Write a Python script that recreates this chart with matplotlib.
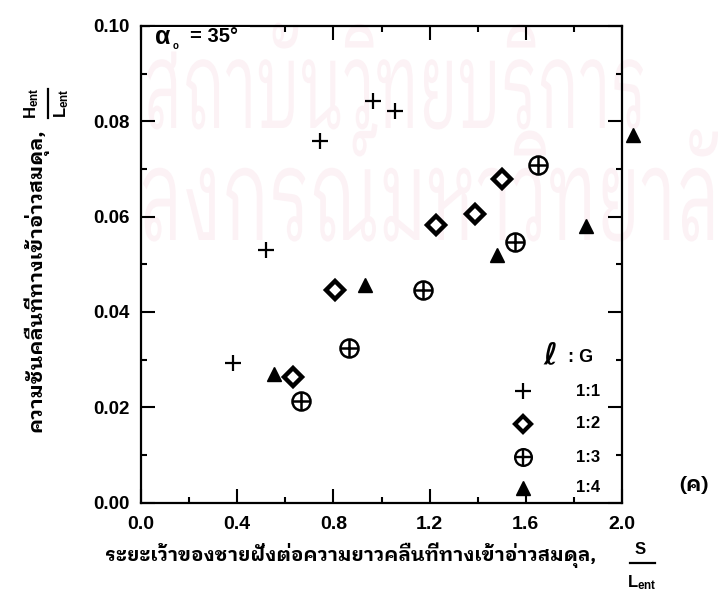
import matplotlib
matplotlib.use('Agg')
import matplotlib.pyplot as plt
from matplotlib import font_manager
from matplotlib.font_manager import FontProperties
from matplotlib.ft2font import FT2Font
from matplotlib.textpath import TextPath
from matplotlib.patches import PathPatch, Rectangle
from matplotlib.transforms import Affine2D

# ---------------- data ----------------
ratio_labels = ['1:1', '1:2', '1:3', '1:4']
s_l_11 = [0.384, 0.519, 0.743, 0.964, 1.057]
h_l_11 = [0.0293, 0.0530, 0.0759, 0.0843, 0.0821]
s_l_12 = [0.630, 0.808, 1.227, 1.389, 1.500]
h_l_12 = [0.0264, 0.0445, 0.0583, 0.0605, 0.0679]
s_l_13 = [0.664, 0.865, 1.173, 1.554, 1.652]
h_l_13 = [0.0214, 0.0324, 0.0445, 0.0546, 0.0709]
s_l_14 = [0.555, 0.933, 1.482, 1.851, 2.045]
h_l_14 = [0.0269, 0.0457, 0.0520, 0.0580, 0.0772]
x_ticks = [0.0, 0.4, 0.8, 1.2, 1.6, 2.0]
y_ticks = [0.00, 0.02, 0.04, 0.06, 0.08, 0.10]
x_label_th = 'ระยะเว้าของชายฝั่งต่อความยาวคลื่นที่ทางเข้าอ่าวสมดุล,'
y_label_th = 'ความชันคลื่นที่ทางเข้าอ่าวสมดุล,'
panel_label = '(ค)'
angle_label = '= 35°'
watermark_1 = 'สถาบันวิทยบริการ'
watermark_2 = 'ลงกรณ์มหาวิทยาลัย'

# ---------------- fonts ----------------
thai = {}
for f in font_manager.fontManager.ttflist:
    try:
        cm = FT2Font(f.fname).get_charmap()
    except Exception:
        continue
    if 0x0E04 in cm:
        thai.setdefault(f.name, set()).add(f.weight)


def wnum(w):
    if isinstance(w, (int, float)):
        return w
    return {'bold': 700, 'heavy': 800, 'black': 900, 'semibold': 600,
            'demibold': 600, 'extra bold': 800}.get(str(w).lower(), 400)


pref = ['IBM Plex Sans Thai Looped', 'Noto Sans Thai Looped', 'Sarabun',
        'IBM Plex Sans Thai', 'Anuphan']
thai_font = None
for p in pref:
    if p in thai and any(wnum(w) >= 600 for w in thai[p]):
        thai_font = p
        break
if thai_font is None:
    thai_font = sorted(thai)[0] if thai else 'DejaVu Sans'
TH = [thai_font, 'DejaVu Sans']
LAT = ['Liberation Sans', 'DejaVu Sans']

plt.rcParams['font.family'] = LAT
plt.rcParams['font.weight'] = 'bold'
plt.rcParams['mathtext.fontset'] = 'custom'
plt.rcParams['mathtext.rm'] = 'Liberation Sans:bold'
plt.rcParams['mathtext.bf'] = 'Liberation Sans:bold'
plt.rcParams['mathtext.it'] = 'Liberation Sans:bold'

W, H = 718, 615
fig = plt.figure(figsize=(W / 100, H / 100), dpi=100)


def P(x, y):
    return (x / W, 1 - y / H)


# ---------------- watermark (background) ----------------
wax = fig.add_axes([0, 0, 1, 1])
wax.set_xlim(0, W)
wax.set_ylim(H, 0)
wax.axis('off')
wfp = FontProperties(family=TH, weight='normal')
clip = Rectangle((143, 0), W - 143, H, transform=wax.transData)


def watermark(text, measure_text, x0, base_y, target_w, body_h):
    tp = TextPath((0, 0), text, size=100, prop=wfp)
    mb = TextPath((0, 0), measure_text, size=100, prop=wfp).get_extents()
    rb = TextPath((0, 0), 'ส', size=100, prop=wfp).get_extents()
    sx = target_w / mb.width
    sy = body_h / rb.height
    tr = Affine2D().translate(-mb.x0, 0).scale(sx, -sy).translate(x0, base_y)
    patch = PathPatch(tr.transform_path(tp), fc='#fcf2f5', ec='none')
    wax.add_patch(patch)
    patch.set_clip_path(clip)


watermark(watermark_1, watermark_1, 147, 128, 496, 78)
watermark(watermark_2, 'ลงกรณ์มหาวิทยาลั', 143, 240, 575, 82)

# ---------------- main axes ----------------
L, R, T, B = 141, 622, 26, 502.5
ax = fig.add_axes([L / W, 1 - B / H, (R - L) / W, (B - T) / H])
ax.set_facecolor('none')
ax.set_xlim(0, 2.0)
ax.set_ylim(0, 0.10)
ax.set_xticks(x_ticks)
ax.set_xticklabels([f'{v:.1f}' for v in x_ticks])
ax.set_xticks([0.2, 0.6, 1.0, 1.4, 1.8], minor=True)
ax.set_yticks(y_ticks)
ax.set_yticklabels([f'{v:.2f}' for v in y_ticks])
ax.set_yticks([0.01, 0.03, 0.05, 0.07, 0.09], minor=True)
ax.tick_params(which='both', direction='in', top=True, right=True,
               width=1.5, colors='black')
ax.tick_params(which='major', length=10)
ax.tick_params(which='minor', length=4)
ax.tick_params(axis='x', which='major', pad=10, labelsize=14)
ax.tick_params(axis='y', which='major', pad=8, labelsize=13.5)
for lab in ax.get_xticklabels() + ax.get_yticklabels():
    lab.set_fontweight('bold')
for sp in ax.spines.values():
    sp.set_linewidth(1.6)

mk = dict(linestyle='none', clip_on=False, zorder=5)
ax.plot(s_l_11, h_l_11, marker='+', ms=12, mew=1.6, color='black', **mk)
ax.plot(s_l_12, h_l_12, marker='D', ms=9, mew=3.2, mfc='white', mec='black', **mk)
ax.plot(s_l_13, h_l_13, marker='o', ms=13, mew=1.8, mfc='white', mec='black', **mk)
ax.plot(s_l_13, h_l_13, marker='+', ms=13, mew=1.8, color='black', **mk)
ax.plot(s_l_14, h_l_14, marker='^', ms=10, color='black', **mk)

# ---------------- overlay axes (pixel coordinates) ----------------
lax = fig.add_axes([0, 0, 1, 1], facecolor='none')
lax.set_xlim(0, W)
lax.set_ylim(H, 0)
lax.axis('off')

# white patch under the alpha label (hides top ticks there)
fig.patches.append(Rectangle(P(150, 40), 100 / W, 13 / H, transform=fig.transFigure,
                             fc='white', ec='none', zorder=1))
fig.text(*P(163, 37), 'α', fontsize=18, ha='center', va='center', family=LAT)
fig.text(*P(176, 46), 'o', fontsize=7, ha='center', va='center', family=LAT)
fig.text(*P(190, 37), angle_label, fontsize=14.5, ha='left', va='center',
         fontweight='bold', family=LAT)

# legend
leg_y = [391, 424, 457, 488]
fig.text(*P(550, 356), 'ℓ', fontsize=21, ha='center', va='center',
         style='italic', family=['DejaVu Sans'])
fig.text(*P(581, 358), ': G', fontsize=13, ha='center', va='center', family=LAT)
mx = 523
lax.plot([mx], [leg_y[0]], marker='+', ms=11, mew=1.6, color='black')
lax.plot([mx], [leg_y[1]], marker='D', ms=8, mew=3.0, mfc='white', mec='black')
lax.plot([mx], [leg_y[2]], marker='o', ms=12, mew=1.7, mfc='white', mec='black')
lax.plot([mx], [leg_y[2]], marker='+', ms=12, mew=1.7, color='black')
lax.plot([mx], [leg_y[3]], marker='^', ms=10, color='black')
for lab, yy in zip(ratio_labels, leg_y):
    fig.text(*P(600, yy), lab, fontsize=12, ha='right', va='center', family=LAT)

fig.text(*P(694, 486), panel_label, fontsize=15, ha='center', va='center',
         fontweight='bold', family=TH)

# x label
xl = fig.text(*P(351, 555), x_label_th, fontsize=14, ha='center', va='center',
              fontweight='bold', family=TH)
fig.text(*P(640, 550), 'S', fontsize=12, ha='center', va='center', family=LAT)
lax.plot([630, 655], [563, 563], color='black', lw=1.6)
fig.text(*P(642, 583), 'L$_{ent}$', fontsize=12, ha='center', va='center', family=LAT)

# y label
yl = fig.text(*P(36, 280), y_label_th, fontsize=14, ha='center', va='center',
              rotation=90, fontweight='bold', family=TH)
fig.text(*P(32, 103), 'H$_{ent}$', fontsize=12, ha='center', va='center',
         rotation=90, family=LAT)
lax.plot([48, 48], [89, 118], color='black', lw=1.6)
fig.text(*P(62, 103), 'L$_{ent}$', fontsize=12, ha='center', va='center',
         rotation=90, family=LAT)

# fit Thai label lengths
r = fig.canvas.get_renderer()
for t, target, horiz in [(xl, 492, True), (yl, 304, False)]:
    bb = t.get_window_extent(r)
    size = bb.width if horiz else bb.height
    t.set_fontsize(t.get_fontsize() * target / size)

fig.savefig('out.png', dpi=100)
